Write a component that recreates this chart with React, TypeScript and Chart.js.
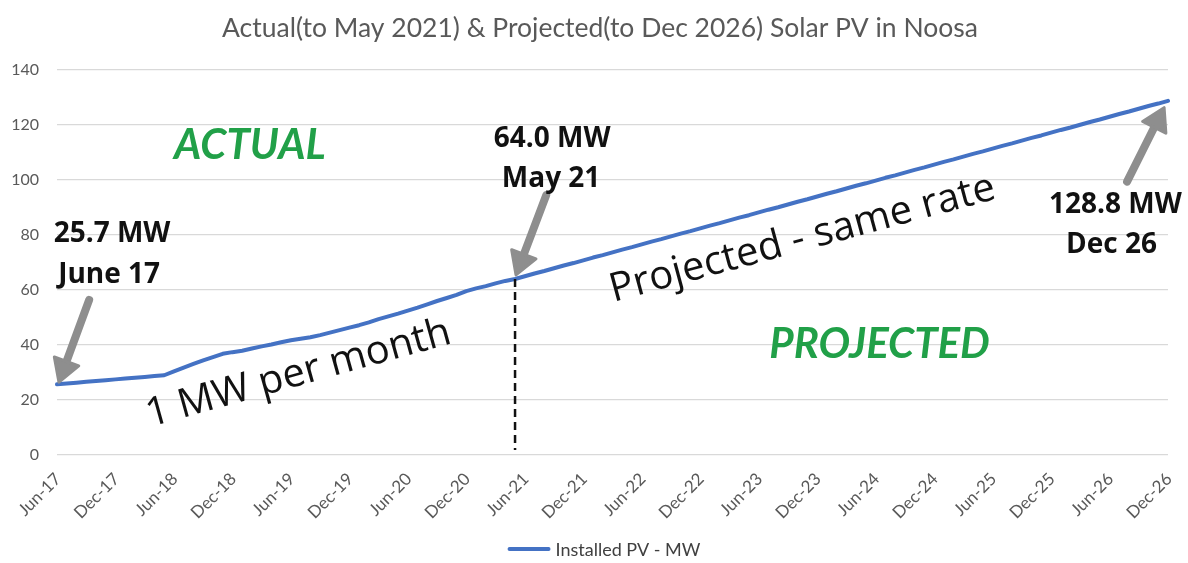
import React, { useEffect, useRef } from "react";
import { Chart, registerables } from "chart.js";

Chart.register(...registerables);

const TITLE = "Actual(to May 2021) & Projected(to Dec 2026) Solar PV in Noosa";
const SERIES_LABEL = "Installed PV - MW";

const MONTHS = [
  "Jun-17", "Jul-17", "Aug-17", "Sep-17", "Oct-17", "Nov-17", "Dec-17",
  "Jan-18", "Feb-18", "Mar-18", "Apr-18", "May-18", "Jun-18", "Jul-18", "Aug-18", "Sep-18", "Oct-18", "Nov-18", "Dec-18",
  "Jan-19", "Feb-19", "Mar-19", "Apr-19", "May-19", "Jun-19", "Jul-19", "Aug-19", "Sep-19", "Oct-19", "Nov-19", "Dec-19",
  "Jan-20", "Feb-20", "Mar-20", "Apr-20", "May-20", "Jun-20", "Jul-20", "Aug-20", "Sep-20", "Oct-20", "Nov-20", "Dec-20",
  "Jan-21", "Feb-21", "Mar-21", "Apr-21", "May-21", "Jun-21", "Jul-21", "Aug-21", "Sep-21", "Oct-21", "Nov-21", "Dec-21",
  "Jan-22", "Feb-22", "Mar-22", "Apr-22", "May-22", "Jun-22", "Jul-22", "Aug-22", "Sep-22", "Oct-22", "Nov-22", "Dec-22",
  "Jan-23", "Feb-23", "Mar-23", "Apr-23", "May-23", "Jun-23", "Jul-23", "Aug-23", "Sep-23", "Oct-23", "Nov-23", "Dec-23",
  "Jan-24", "Feb-24", "Mar-24", "Apr-24", "May-24", "Jun-24", "Jul-24", "Aug-24", "Sep-24", "Oct-24", "Nov-24", "Dec-24",
  "Jan-25", "Feb-25", "Mar-25", "Apr-25", "May-25", "Jun-25", "Jul-25", "Aug-25", "Sep-25", "Oct-25", "Nov-25", "Dec-25",
  "Jan-26", "Feb-26", "Mar-26", "Apr-26", "May-26", "Jun-26", "Jul-26", "Aug-26", "Sep-26", "Oct-26", "Nov-26", "Dec-26",
];

// Actual installed PV, Jun-17 .. May-21 (MW)
const ACTUAL_MW = [
  25.7, 26.0, 26.3, 26.6, 26.9, 27.2, 27.5, 27.8, 28.1, 28.4, 28.7, 29.0,
  30.4, 31.8, 33.1, 34.4, 35.6, 36.8, 37.4, 37.9, 38.7, 39.5, 40.2, 41.0,
  41.7, 42.3, 42.8, 43.6, 44.5, 45.4, 46.3, 47.2, 48.2, 49.4, 50.4, 51.4,
  52.5, 53.6, 54.8, 56.0, 57.1, 58.2, 59.6, 60.6, 61.4, 62.4, 63.3, 64.0,
];

// Projected installed PV, Jun-21 .. Dec-26 (MW)
const PROJECTED_MW = [
  65.0, 66.0, 66.9, 67.9, 68.9, 69.8, 70.8, 71.8, 72.7, 73.7, 74.7, 75.6,
  76.6, 77.6, 78.5, 79.5, 80.5, 81.4, 82.4, 83.4, 84.3, 85.3, 86.3, 87.2,
  88.2, 89.2, 90.1, 91.1, 92.1, 93.0, 94.0, 95.0, 95.9, 96.9, 97.9, 98.8,
  99.8, 100.8, 101.7, 102.7, 103.7, 104.6, 105.6, 106.6, 107.5, 108.5, 109.5, 110.4,
  111.4, 112.4, 113.3, 114.3, 115.3, 116.2, 117.2, 118.2, 119.1, 120.1, 121.1, 122.0,
  123.0, 124.0, 124.9, 125.9, 126.9, 127.8, 128.8,
];

const INSTALLED_PV_MW = [...ACTUAL_MW, ...PROJECTED_MW];
const ACTUAL_END_INDEX = ACTUAL_MW.length - 1; // May-21

const Y_MIN = 0;
const Y_MAX = 140;
const Y_STEP = 20;
const X_TICK_EVERY = 6;

const BLUE = "#4472C4";
const GREEN = "#21A048";
const GRAY_TEXT = "#595959";
const GRID = "#d9d9d9";
const ARROW = "#8e8e8e";

// annotations placed in data coordinates (category index, MW)
const NOTES = [
  { text: "ACTUAL", i: 19.8, v: 112.5, font: "italic bold 42px Lato", color: GREEN, rot: 0, base: "middle" },
  { text: "PROJECTED", i: 84.4, v: 40.2, font: "italic bold 42px Lato", color: GREEN, rot: 0, base: "middle" },
  { text: "1 MW per month", i: 25.1, v: 25.5, font: "40px 'Open Sans'", color: "#111", rot: -15.5, base: "alphabetic" },
  { text: "Projected - same rate", i: 76.8, v: 74.5, font: "40px 'Open Sans'", color: "#111", rot: -15.1, base: "alphabetic" },
  { text: "25.7 MW", i: 5.65, v: 77.5, font: "bold 28px 'Open Sans'", color: "#111", rot: 0, base: "alphabetic" },
  { text: "June 17", i: 5.35, v: 62.4, font: "bold 28px 'Open Sans'", color: "#111", rot: 0, base: "alphabetic" },
  { text: "64.0 MW", i: 50.8, v: 112, font: "bold 28px 'Open Sans'", color: "#111", rot: 0, base: "alphabetic" },
  { text: "May 21", i: 50.7, v: 97.5, font: "bold 28px 'Open Sans'", color: "#111", rot: 0, base: "alphabetic" },
  { text: "128.8 MW", i: 108.6, v: 88, font: "bold 28px 'Open Sans'", color: "#111", rot: 0, base: "alphabetic" },
  { text: "Dec 26", i: 108.2, v: 73.5, font: "bold 28px 'Open Sans'", color: "#111", rot: 0, base: "alphabetic" },
];

const ARROWS = [
  { from: [3.3, 56.4], to: [0.2, 26.5] },
  { from: [50.2, 94.5], to: [47.1, 65.5] },
  { from: [109.8, 99.4], to: [113.6, 126.3] },
];

const DASH_BOTTOM_MW = 1.8;

function drawArrow(ctx: CanvasRenderingContext2D, x1: number, y1: number, x2: number, y2: number) {
  const ang = Math.atan2(y2 - y1, x2 - x1);
  const headLen = 22;
  const headHalf = 13;
  const bx = x2 - Math.cos(ang) * headLen;
  const by = y2 - Math.sin(ang) * headLen;
  ctx.save();
  ctx.strokeStyle = ARROW;
  ctx.fillStyle = ARROW;
  ctx.lineWidth = 8;
  ctx.lineCap = "round";
  ctx.beginPath();
  ctx.moveTo(x1, y1);
  ctx.lineTo(bx + Math.cos(ang) * 4, by + Math.sin(ang) * 4);
  ctx.stroke();
  const px = Math.cos(ang + Math.PI / 2);
  const py = Math.sin(ang + Math.PI / 2);
  ctx.lineJoin = "round";
  ctx.lineWidth = 3;
  ctx.beginPath();
  ctx.moveTo(x2, y2);
  ctx.lineTo(bx + px * headHalf, by + py * headHalf);
  ctx.lineTo(bx - px * headHalf, by - py * headHalf);
  ctx.closePath();
  ctx.fill();
  ctx.stroke();
  ctx.restore();
}

const notesPlugin = {
  id: "notes",
  afterDatasetsDraw(chart: any) {
    const { ctx } = chart;
    const x = chart.scales.x;
    const y = chart.scales.y;
    ctx.save();
    // dashed divider at end of actual data
    const dx = x.getPixelForValue(ACTUAL_END_INDEX);
    ctx.setLineDash([8, 5]);
    ctx.lineWidth = 2.5;
    ctx.strokeStyle = "#111";
    ctx.beginPath();
    ctx.moveTo(dx, y.getPixelForValue(INSTALLED_PV_MW[ACTUAL_END_INDEX]));
    ctx.lineTo(dx, y.getPixelForValue(DASH_BOTTOM_MW));
    ctx.stroke();
    ctx.setLineDash([]);

    for (const a of ARROWS) {
      drawArrow(
        ctx,
        x.getPixelForValue(a.from[0]),
        y.getPixelForValue(a.from[1]),
        x.getPixelForValue(a.to[0]),
        y.getPixelForValue(a.to[1])
      );
    }

    for (const n of NOTES) {
      ctx.save();
      ctx.translate(x.getPixelForValue(n.i), y.getPixelForValue(n.v));
      ctx.rotate((n.rot * Math.PI) / 180);
      ctx.font = n.font;
      ctx.fillStyle = n.color;
      ctx.textAlign = "center";
      ctx.textBaseline = n.base as CanvasTextBaseline;
      ctx.fillText(n.text, 0, 0);
      ctx.restore();
    }
    ctx.restore();
  },
};

// title and bottom legend (line sample followed by the series label)
const framePlugin = {
  id: "frame",
  afterDraw(chart: any) {
    const { ctx } = chart;
    const ds = chart.data.datasets[0];
    ctx.save();
    ctx.font = "26.5px Lato";
    ctx.fillStyle = GRAY_TEXT;
    ctx.textAlign = "center";
    ctx.textBaseline = "middle";
    ctx.fillText(TITLE, chart.width / 2 + 6, 28);

    ctx.font = "18px Lato";
    const tw = ctx.measureText(ds.label).width;
    const sample = 43;
    const gap = 5;
    const total = sample + gap + tw;
    const cx = chart.width / 2 + 10;
    const yMid = 549;
    const x0 = cx - total / 2;
    ctx.strokeStyle = ds.borderColor;
    ctx.lineWidth = 4;
    ctx.lineCap = "round";
    ctx.beginPath();
    ctx.moveTo(x0 + 2, yMid);
    ctx.lineTo(x0 + sample - 2, yMid);
    ctx.stroke();
    ctx.fillStyle = "#404040";
    ctx.textAlign = "left";
    ctx.fillText(ds.label, x0 + sample + gap, yMid + 1);
    ctx.restore();
  },
};

export default function App() {
  const canvasRef = useRef<HTMLCanvasElement | null>(null);

  useEffect(() => {
    document.body.style.margin = "0";
    const canvas = canvasRef.current;
    if (!canvas) return;
    const chart = new Chart(canvas, {
      type: "line",
      data: {
        labels: MONTHS,
        datasets: [
          {
            label: SERIES_LABEL,
            data: INSTALLED_PV_MW,
            borderColor: BLUE,
            backgroundColor: BLUE,
            borderWidth: 4,
            pointRadius: 0,
            pointHoverRadius: 0,
            tension: 0,
            borderCapStyle: "round",
            borderJoinStyle: "round",
            fill: false,
          },
        ],
      },
      options: {
        responsive: false,
        animation: false,
        events: [],
        layout: { padding: { top: 70, right: 20, bottom: 0, left: 0 } },
        scales: {
          x: {
            type: "category",
            offset: false,
            grid: { display: false, drawTicks: false },
            border: { display: false },
            afterFit: (s: any) => {
              s.height = 108;
              s.paddingRight = 0;
              s.paddingLeft = 0;
            },
            ticks: {
              autoSkip: false,
              minRotation: 45,
              maxRotation: 45,
              padding: 14,
              labelOffset: 1,
              color: GRAY_TEXT,
              font: { family: "Lato", size: 17 },
              callback: (_v: any, idx: number) => (idx % X_TICK_EVERY === 0 ? MONTHS[idx] : ""),
            },
          },
          y: {
            min: Y_MIN,
            max: Y_MAX,
            grid: { color: GRID, lineWidth: 1.2, drawTicks: false },
            border: { display: false },
            afterFit: (s: any) => {
              s.width = 57;
              s.paddingTop = 0;
              s.paddingBottom = 0;
            },
            ticks: {
              stepSize: Y_STEP,
              padding: 18,
              color: GRAY_TEXT,
              font: { family: "Lato", size: 16 },
            },
          },
        },
        plugins: {
          title: { display: false },
          legend: { display: false },
          tooltip: { enabled: false },
        },
      },
      plugins: [notesPlugin, framePlugin],
    } as any);
    return () => chart.destroy();
  }, []);

  return (
    <div style={{ width: 1188, height: 563, background: "#fff" }}>
      <canvas ref={canvasRef} width={1188} height={563} />
    </div>
  );
}
